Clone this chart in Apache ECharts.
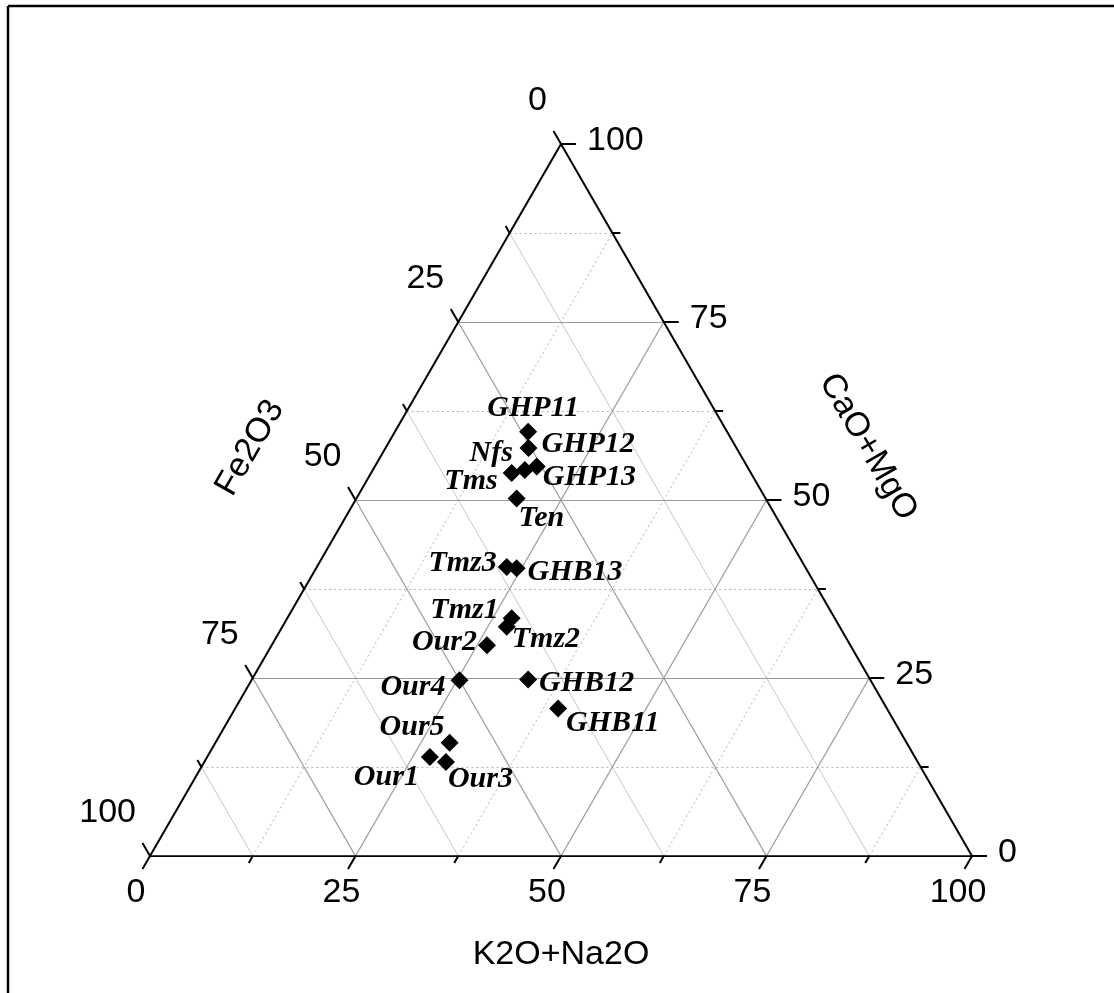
<!DOCTYPE html>
<html>
<head>
<meta charset="utf-8">
<script src="https://cdn.jsdelivr.net/npm/echarts@6/dist/echarts.min.js"></script>
<style>
html,body{margin:0;padding:0;background:#fff;}
#chart{width:1114px;height:993px;}
</style>
</head>
<body>
<div id="chart"></div>
<script>
// ---- data (ternary, percent) ----
var sampleNames = ['GHP11','GHP12','Nfs','Tms','GHP13','Ten','Tmz3','GHB13','Tmz1','Tmz2','Our2','Our4','GHB12','GHB11','Our5','Our1','Our3'];
var k2oNa2o = [16.2,17.4,18.5,17.1,19.7,19.5,23.1,24.4,27.3,27.3,26.2,25.3,33.6,39.3,28.5,27.1,29.4];
var caoMgo  = [59.6,57.3,54.2,53.8,54.7,50.2,40.6,40.4,33.4,32.2,29.6,24.7,24.8,20.7,15.9,13.9,13.2];
var fe2o3   = [24.2,25.3,27.3,29.1,25.6,30.3,36.3,35.2,39.3,40.5,44.2,50.0,41.6,40.0,55.6,59.0,57.4];
var majorTicks = [0,25,50,75,100];
var minorTicks = [12.5,37.5,62.5,87.5];
var axisTitles = ['K2O+Na2O','CaO+MgO','Fe2O3'];

// ---- label layout (style, separate from data) ----
var labelLayout = {
  GHP11:['center',5,-23], GHP12:['left',13,-4], Nfs:['right',-12,-17], Tms:['right',-14,8],
  GHP13:['left',6,11], Ten:['left',2,20], Tmz3:['right',-10,-4], GHB13:['left',11,4],
  Tmz1:['right',-13,-8], Tmz2:['left',5,13], Our2:['right',-10,-3], Our4:['right',-14,7],
  GHB12:['left',11,4], GHB11:['left',8,15], Our5:['right',-5,-16], Our1:['right',-11,20], Our3:['left',2,17]
};

var S3 = Math.sqrt(3)/2;
function toXY(k, c){ return [k + c/2, c*S3]; }

// grid lines
var gridData = [];
var allGrid = minorTicks.concat([25,50,75]);
allGrid.forEach(function(v){
  var major = majorTicks.indexOf(v) >= 0;
  var solidMinor = {color:'#c8c8c8', width:1, type:'solid', opacity:1};
  var dotted = {color:'#b4b4b4', width:1, type:[2,3], opacity:1};
  var majorStyle = {color:'#9a9a9a', width:1.2, type:'solid', opacity:1};
  gridData.push({coords:[toXY(0,v), toXY(100-v,v)], lineStyle: major?majorStyle:dotted});
  gridData.push({coords:[toXY(v,0), toXY(v,100-v)], lineStyle: major?majorStyle:dotted});
  gridData.push({coords:[toXY(100-v,0), toXY(0,100-v)], lineStyle: major?majorStyle:solidMinor});
});
var sideData = [
  {coords:[toXY(0,0), toXY(100,0)], lineStyle:{width:2.6}},
  {coords:[toXY(100,0), toXY(0,100)]},
  {coords:[toXY(0,100), toXY(0,0)]}
];

// ticks
var tickData = [];
majorTicks.concat(minorTicks).forEach(function(v){
  var major = majorTicks.indexOf(v) >= 0 ? 1 : 0;
  var p;
  p = toXY(v,0);        tickData.push([p[0],p[1],0,major,v]);
  p = toXY(100-v,v);    tickData.push([p[0],p[1],1,major,v]);
  p = toXY(0,100-v);    tickData.push([p[0],p[1],2,major,v]);
});
var tickDirs = [[-0.5,0.866],[1,0],[-0.5,-0.866]];
var tickLabelOff = [[-14,37,'center'],[26,-3,'left'],[-14,-43,'right']];

var points = sampleNames.map(function(n,i){
  var sum = k2oNa2o[i] + caoMgo[i] + fe2o3[i];
  var xy = toXY(k2oNa2o[i]*100/sum, caoMgo[i]*100/sum);
  var L = labelLayout[n];
  return {name:n, value:xy, label:{align:L[0], offset:[L[1],L[2]]}};
});

var chart = echarts.init(document.getElementById('chart'), null, {renderer:'canvas'});
var option = {
  animation:false,
  backgroundColor:'#ffffff',
  grid:{left:150, top:144, width:822, height:712, containLabel:false},
  xAxis:{type:'value', min:0, max:100, show:false},
  yAxis:{type:'value', min:0, max:100*S3, show:false},
  graphic:[
    {type:'line', shape:{x1:8,y1:6,x2:1114,y2:6}, style:{stroke:'#000',lineWidth:2.5}},
    {type:'line', shape:{x1:8,y1:6,x2:8,y2:993}, style:{stroke:'#000',lineWidth:2.5}},
    {type:'text', x:561, y:955, style:{text:axisTitles[0], font:'34px "Liberation Sans", Arial, sans-serif', fill:'#000', align:'center', verticalAlign:'middle'}},
    {type:'text', x:868, y:447, rotation:-Math.PI/3, style:{text:axisTitles[1], font:'34px "Liberation Sans", Arial, sans-serif', fill:'#000', align:'center', verticalAlign:'middle'}},
    {type:'text', x:250, y:448, rotation:Math.PI/3, style:{text:axisTitles[2], font:'34px "Liberation Sans", Arial, sans-serif', fill:'#000', align:'center', verticalAlign:'middle'}}
  ],
  series:[
    {type:'lines', coordinateSystem:'cartesian2d', silent:true, z:1, data:gridData},
    {type:'lines', coordinateSystem:'cartesian2d', silent:true, z:2, lineStyle:{color:'#000', width:2, type:'solid', opacity:1}, data:sideData},
    {type:'custom', coordinateSystem:'cartesian2d', silent:true, z:3, data:tickData,
      renderItem:function(params, api){
        var p = api.coord([api.value(0), api.value(1)]);
        var ax = api.value(2), major = api.value(3), v = api.value(4);
        var d = tickDirs[ax], len = major ? 15 : 8;
        var children = [{type:'line', shape:{x1:p[0],y1:p[1],x2:p[0]+d[0]*len,y2:p[1]+d[1]*len}, style:{stroke:'#000', lineWidth:2}}];
        if (major) {
          var o = tickLabelOff[ax];
          children.push({type:'text', x:p[0]+o[0], y:p[1]+o[1], style:{text:String(v), font:'34px "Liberation Sans", Arial, sans-serif', fill:'#000', align:o[2], verticalAlign:'middle'}});
        }
        return {type:'group', children:children};
      }
    },
    {type:'scatter', z:5, symbol:'diamond', symbolSize:18, itemStyle:{color:'#000', opacity:1},
      label:{show:true, position:'inside', formatter:'{b}', color:'#000', opacity:1, verticalAlign:'middle',
        fontFamily:'"Liberation Serif", "Times New Roman", serif', fontStyle:'italic', fontWeight:'bold', fontSize:30},
      data:points}
  ]
};
chart.setOption(option);
</script>
</body>
</html>
